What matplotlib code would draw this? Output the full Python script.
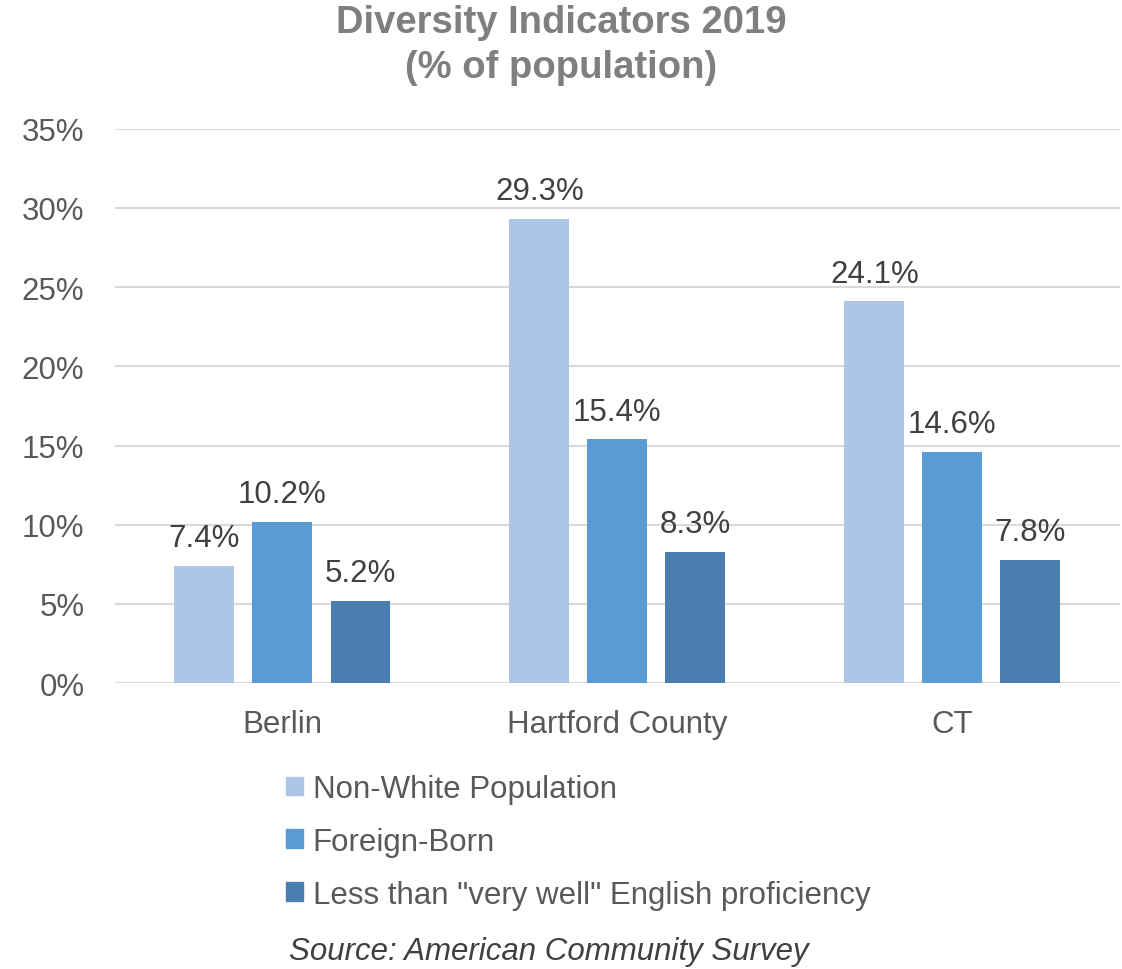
import numpy as np
import matplotlib
matplotlib.use("Agg")
import matplotlib.pyplot as plt
from matplotlib.patches import Patch

plt.rcParams.update({"font.family": ["Liberation Sans", "DejaVu Sans"]})

places = ["Berlin", "Hartford County", "CT"]
series = ["Non-White Population", "Foreign-Born", "Less than \"very well\" English proficiency"]
non_white = [7.4, 29.3, 24.1]
foreign_born = [10.2, 15.4, 14.6]
limited_english = [5.2, 8.3, 7.8]
colors = ["#AEC6E6", "#5B9BD5", "#4A7EB0"]

fig = plt.figure(figsize=(11.22, 9.70), dpi=100)
ax = fig.add_axes([0.1025, 0.2948, 0.8955, 0.5714])

x = np.arange(len(places))
step, w = 0.233, 0.179
for i, (vals, col) in enumerate(zip([non_white, foreign_born, limited_english], colors)):
    bars = ax.bar(x + (i - 1) * step, vals, w, color=col, zorder=3)
    for b, v in zip(bars, vals):
        ax.text(b.get_x() + b.get_width() / 2, v + 0.8, f"{v:.1f}%",
                ha="center", va="bottom", fontsize=22.5, color="#404040")

ax.set_xlim(-0.5, 2.5)
ax.set_ylim(0, 35)
ax.set_yticks(np.arange(0, 36, 5))
ax.set_yticklabels([f"{t}%" for t in range(0, 36, 5)])
ax.set_xticks(x)
ax.set_xticklabels(places)
ax.tick_params(axis="both", length=0, labelsize=22.5, labelcolor="#595959")
ax.tick_params(axis="y", pad=22)
ax.tick_params(axis="x", pad=19)
ax.grid(axis="y", color="#D9D9D9", lw=1.5, zorder=0)
for s in ax.spines.values():
    s.set_visible(False)

fig.text(0.5, 0.953, "Diversity Indicators 2019\n(% of population)", ha="center", va="center",
         fontsize=27.5, fontweight="bold", color="#7F7F7F", linespacing=1.35)

handles = [Patch(color=c) for c in colors]
leg = fig.legend(handles, series, loc="upper left", bbox_to_anchor=(0.255, 0.201),
                 frameon=False, fontsize=22.5, handlelength=0.55, handleheight=0.55,
                 handletextpad=0.3, labelspacing=0.73, borderpad=0, borderaxespad=0)
for t in leg.get_texts():
    t.set_color("#595959")

fig.text(0.258, 0.019, "Source: American Community Survey", ha="left", va="center",
         fontsize=22.5, style="italic", color="#404040")

fig.savefig("out.png", dpi=100)
